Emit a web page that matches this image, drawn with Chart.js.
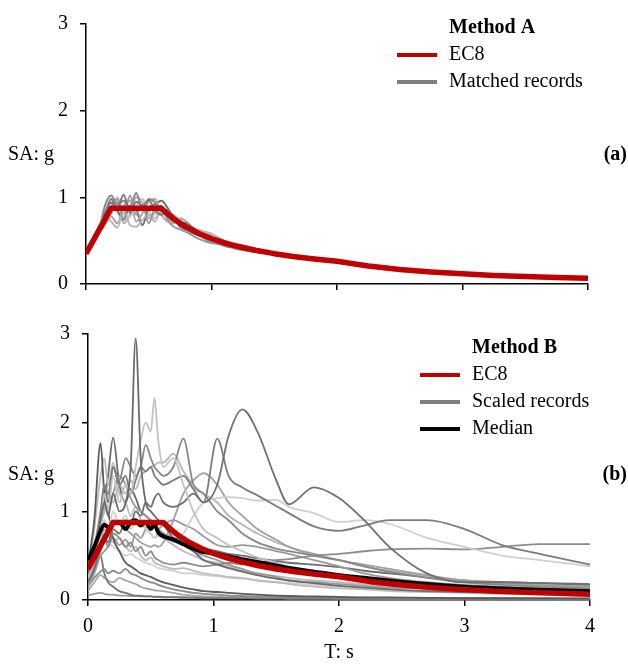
<!DOCTYPE html>
<html>
<head>
<meta charset="utf-8">
<script src="https://cdn.jsdelivr.net/npm/chart.js@4.4.0/dist/chart.umd.min.js"></script>
<style>
  body { margin: 0; background: #fff; }
  canvas { position: absolute; left: 0; }
  #specA { top: 0; }
  #specB { top: 310px; }
</style>
</head>
<body>
<canvas id="specA" width="628" height="310"></canvas>
<canvas id="specB" width="628" height="355"></canvas>
<script>
var FONT = '"Liberation Serif", "Times New Roman", serif';

var xTicks = [0, 1, 2, 3, 4];
var yTicks = [0, 1, 2, 3];

// EC8 elastic design spectrum
var ec8Periods = [0, 0.2, 0.6, 0.65, 0.7, 0.75, 0.8, 0.9, 1.0, 1.1, 1.2, 1.35, 1.5, 1.65, 1.8, 2.0, 2.25, 2.5, 2.75, 3.0, 3.25, 3.5, 3.75, 4.0];
var ec8Values = [0.35, 0.875, 0.875, 0.808, 0.75, 0.70, 0.656, 0.583, 0.525, 0.477, 0.438, 0.389, 0.35, 0.318, 0.292, 0.263, 0.207, 0.168, 0.139, 0.117, 0.099, 0.086, 0.075, 0.066];

// method A: spectrally matched records
var matchedPeriods = [0, 0.05, 0.1, 0.15, 0.2, 0.25, 0.3, 0.35, 0.4, 0.45, 0.5, 0.55, 0.6, 0.65, 0.7, 0.75, 0.8, 0.9, 1.0, 1.1, 1.2, 1.4, 1.6, 1.8, 2.0, 2.3, 2.6, 3.0, 3.5, 4.0];
var matchedRecords = [
  [0.35,0.47,0.62,0.80,0.98,0.88,1.03,0.82,0.95,0.90,0.97,0.85,0.80,0.84,0.78,0.72,0.70,0.60,0.50,0.44,0.41,0.36,0.33,0.29,0.26,0.20,0.155,0.118,0.087,0.066],
  [0.33,0.45,0.58,0.70,0.85,0.98,0.75,1.02,0.80,0.92,0.70,0.88,0.90,0.74,0.66,0.63,0.60,0.52,0.47,0.46,0.43,0.39,0.32,0.28,0.27,0.20,0.16,0.115,0.086,0.065],
  [0.36,0.50,0.66,0.78,0.72,0.65,0.85,0.68,0.66,0.74,0.80,0.72,0.86,0.80,0.78,0.74,0.66,0.62,0.58,0.50,0.45,0.37,0.34,0.29,0.25,0.20,0.15,0.12,0.085,0.067],
  [0.34,0.48,0.60,0.90,1.02,0.92,0.96,0.88,1.05,0.86,0.98,0.94,0.84,0.86,0.74,0.68,0.62,0.56,0.48,0.46,0.43,0.38,0.33,0.30,0.26,0.21,0.16,0.117,0.088,0.067],
  [0.35,0.46,0.64,0.74,0.80,1.00,0.82,0.78,0.90,0.98,0.84,0.76,0.90,0.78,0.80,0.70,0.64,0.63,0.55,0.49,0.45,0.39,0.32,0.28,0.26,0.19,0.155,0.115,0.085,0.065],
  [0.34,0.44,0.57,0.68,0.78,0.70,0.90,0.96,0.72,0.82,0.95,0.98,0.80,0.72,0.70,0.76,0.72,0.58,0.53,0.46,0.41,0.36,0.34,0.30,0.27,0.205,0.16,0.118,0.087,0.066],
  [0.36,0.49,0.63,0.82,0.94,0.84,0.74,0.90,0.86,0.68,0.88,0.92,0.96,0.88,0.76,0.66,0.63,0.56,0.52,0.45,0.42,0.37,0.335,0.285,0.255,0.195,0.15,0.116,0.086,0.066],
  [0.35,0.47,0.61,0.72,0.90,0.95,0.70,0.80,1.00,0.94,0.76,0.82,0.85,0.76,0.72,0.72,0.68,0.60,0.54,0.48,0.40,0.38,0.33,0.29,0.265,0.20,0.155,0.117,0.086,0.066]
];
var matchedColors = ['#7a7a7a', '#9a9a9a', '#b8b8b8', '#888888', '#c4c4c4', '#a8a8a8', '#6e6e6e', '#b0b0b0'];

// method B: amplitude-scaled records and their median
var scaledPeriods = [0, 0.05, 0.1, 0.13, 0.16, 0.2, 0.25, 0.3, 0.34, 0.38, 0.42, 0.46, 0.5, 0.53, 0.56, 0.6, 0.68, 0.76, 0.84, 0.92, 1.03, 1.12, 1.23, 1.35, 1.5, 1.6, 1.8, 2.0, 2.2, 2.4, 2.7, 3.0, 3.3, 3.6, 4.0];
var scaledRecords = [
  [0.30,0.55,0.90,1.10,0.95, 1.20,1.00,1.10,1.50,2.95, 1.60,1.10,1.00,0.95,0.90, 0.85,0.70,0.62,0.55,0.45, 0.40,0.36,0.32,0.28,0.24, 0.22,0.19,0.16,0.14,0.12, 0.10,0.09,0.08,0.07,0.06],
  [0.25,0.50,0.80,1.20,1.00, 1.40,1.10,1.30,1.20,1.50, 1.80,2.00,1.90,2.28,1.80, 1.50,1.60,1.30,1.00,0.80, 0.70,0.62,0.55,0.48,0.42, 0.38,0.33,0.28,0.25,0.22, 0.18,0.15,0.13,0.11,0.09],
  [0.20,0.35,0.60,0.70,0.65, 0.80,0.75,0.90,0.85,1.00, 0.95,1.10,1.05,1.15,1.20, 1.10,1.05,1.10,1.20,1.10, 1.30,1.85,2.15,1.90,1.35, 1.08,1.27,1.15,0.90,0.60, 0.30,0.20,0.20,0.19,0.17],
  [0.30,0.50,0.90,1.30,1.10, 1.50,1.30,1.40,1.20,1.35, 1.50,1.45,1.50,1.40,1.35, 1.30,1.35,1.40,1.25,1.10, 1.82,1.40,1.27,1.18,1.06, 0.98,0.83,0.78,0.84,0.90, 0.90,0.80,0.62,0.52,0.40],
  [0.30,0.60,1.00,1.30,1.20, 1.50,1.35,1.60,1.50,1.40, 1.50,1.75,1.60,1.50,1.45, 1.40,1.50,1.82,1.30,1.20, 1.00,0.90,0.75,0.65,0.58, 0.55,0.50,0.45,0.38,0.32, 0.25,0.20,0.17,0.15,0.13],
  [0.25,0.45,0.70,0.90,0.80, 1.00,0.85,0.95,0.80,0.90, 0.85,0.80,0.75,0.70,0.72, 0.70,0.65,0.75,0.95,1.10, 1.15,1.16,1.15,1.12,1.13, 1.05,0.98,0.88,0.90,0.86, 0.70,0.60,0.50,0.45,0.38],
  [0.20,0.35,0.55,0.70,0.60, 0.75,0.70,0.60,0.65,0.55, 0.60,0.50,0.55,0.48,0.45, 0.42,0.40,0.42,0.40,0.38, 0.40,0.42,0.40,0.42,0.45, 0.46,0.50,0.52,0.55,0.57, 0.58,0.57,0.60,0.63,0.63],
  [0.40,0.90,1.77,1.20,1.00, 0.70,0.55,0.42,0.38,0.34, 0.30,0.28,0.26,0.24,0.22, 0.20,0.17,0.14,0.12,0.10, 0.09,0.08,0.07,0.06,0.05, 0.045,0.04,0.035,0.03,0.03, 0.025,0.02,0.02,0.018,0.015],
  [0.30,0.60,0.90,1.10,1.00, 1.20,1.40,1.30,1.15,1.05, 1.00,0.95,0.90,0.85,0.80, 0.75,0.70,0.62,0.55,0.50, 0.45,0.40,0.35,0.30,0.26, 0.22,0.20,0.18,0.16,0.14, 0.13,0.12,0.10,0.09,0.08],
  [0.30,0.80,1.40,1.60,1.30, 1.55,1.20,1.10,0.95,1.05, 0.90,0.80,0.75,0.70,0.75, 0.70,0.62,0.55,0.50,0.45, 0.42,0.38,0.33,0.30,0.27, 0.25,0.22,0.20,0.18,0.16, 0.14,0.12,0.10,0.09,0.08],
  [0.15,0.30,0.50,0.55,0.60, 0.70,0.62,0.68,0.60,0.75, 0.70,0.80,0.90,0.85,0.80, 0.85,0.90,0.85,0.80,0.72, 0.62,0.60,0.62,0.60,0.55, 0.52,0.45,0.38,0.30,0.25, 0.20,0.17,0.15,0.13,0.12],
  [0.20,0.40,0.65,0.80,0.75, 0.90,0.85,0.80,0.75,0.70, 0.65,0.62,0.60,0.62,0.60, 0.65,0.90,1.20,1.35,1.43, 1.30,1.10,0.95,0.80,0.68, 0.60,0.52,0.45,0.40,0.35, 0.28,0.22,0.19,0.17,0.15],
  [0.30,0.55,0.85,1.00,1.20, 1.10,1.30,1.20,1.35,1.25, 1.40,1.45,1.50,1.52,1.55, 1.55,1.65,1.45,1.30,1.20, 1.10,0.95,0.85,0.75,0.65, 0.60,0.50,0.45,0.38,0.33, 0.27,0.22,0.19,0.16,0.14],
  [0.15,0.25,0.32,0.35,0.30, 0.33,0.30,0.35,0.30,0.28, 0.25,0.22,0.20,0.19,0.17, 0.15,0.12,0.10,0.08,0.07, 0.06,0.05,0.045,0.04,0.035, 0.03,0.03,0.025,0.025,0.02, 0.02,0.02,0.015,0.015,0.012],
  [0.20,0.35,0.50,0.30,0.20, 0.15,0.10,0.08,0.06,0.05, 0.05,0.04,0.04,0.035,0.035, 0.03,0.03,0.025,0.025,0.02, 0.02,0.02,0.018,0.016,0.015, 0.014,0.013,0.012,0.011,0.01, 0.01,0.01,0.009,0.008,0.008],
  [0.10,0.20,0.28,0.25,0.22, 0.20,0.25,0.22,0.20,0.18, 0.15,0.13,0.12,0.11,0.105, 0.10,0.08,0.06,0.05,0.04, 0.035,0.03,0.028,0.025,0.022, 0.02,0.018,0.016,0.015,0.014, 0.012,0.011,0.01,0.01,0.01],
  [0.05,0.07,0.08,0.07,0.06, 0.06,0.05,0.05,0.045,0.045, 0.04,0.04,0.04,0.038,0.038, 0.036,0.035,0.034,0.033,0.032, 0.031,0.03,0.03,0.029,0.028, 0.028,0.027,0.026,0.025,0.024, 0.023,0.022,0.021,0.02,0.02],
  [0.30,0.50,0.70,0.90,0.75, 0.65,0.70,0.60,0.55,0.60, 0.50,0.45,0.48,0.42,0.40, 0.38,0.35,0.36,0.33,0.30, 0.28,0.26,0.25,0.22,0.20, 0.18,0.15,0.13,0.12,0.10, 0.09,0.08,0.07,0.06,0.05],
  [0.25,0.50,0.90,1.10,1.40, 1.83,1.30,1.10,1.25,1.15, 1.00,0.95,0.90,0.85,0.80, 0.75,0.70,0.68,0.62,0.58, 0.55,0.52,0.50,0.47,0.44, 0.42,0.40,0.37,0.33,0.30, 0.26,0.22,0.20,0.19,0.18],
  [0.20,0.40,0.60,0.70,0.65, 0.60,0.55,0.50,0.52,0.48, 0.45,0.42,0.40,0.38,0.36, 0.35,0.33,0.30,0.30,0.28, 0.27,0.25,0.24,0.22,0.20, 0.19,0.17,0.15,0.14,0.12, 0.10,0.09,0.08,0.07,0.06]
];
var scaledColors = ['#6a6a6a', '#c2c2c2', '#707070', '#7c7c7c', '#888888', '#cfcfcf', '#8c8c8c', '#5a5a5a',
  '#9a9a9a', '#bbbbbb', '#9a9a9a', '#a0a0a0', '#b5b5b5', '#8a8a8a', '#777777', '#a5a5a5', '#9c9c9c', '#bdbdbd', '#6c6c6c', '#d0d0d0'];
var medianValues = [0.45,0.60,0.78,0.85,0.82, 0.86,0.88,0.80,0.88,0.90, 0.84,0.88,0.80,0.85,0.76, 0.72,0.68,0.63,0.58,0.54, 0.52,0.49,0.46,0.43,0.39, 0.36,0.32,0.28,0.25,0.22, 0.18,0.15,0.13,0.115,0.10];

function pts(periods, values) {
  return values.map(function (v, i) { return { x: periods[i], y: v }; });
}

function recordSet(periods, values, color, width) {
  return {
    data: pts(periods, values),
    borderColor: color,
    borderWidth: width,
    pointRadius: 0,
    cubicInterpolationMode: 'monotone',
    fill: false
  };
}

function ec8Set() {
  return {
    data: pts(ec8Periods, ec8Values),
    borderColor: '#c00000',
    borderWidth: 5.5,
    borderJoinStyle: 'round',
    pointRadius: 0,
    tension: 0,
    fill: false
  };
}

// axis caption, panel tag and the small legend in the corner
var panelText = {
  id: 'panelText',
  afterDraw: function (chart, args, opts) {
    var ctx = chart.ctx;
    ctx.save();
    ctx.fillStyle = '#000';
    ctx.textBaseline = 'middle';
    ctx.font = '20px ' + FONT;
    ctx.textAlign = 'left';
    ctx.fillText('SA: g', 8, opts.captionY);
    ctx.font = 'bold 20px ' + FONT;
    ctx.textAlign = 'right';
    ctx.fillText(opts.tag, 627, opts.captionY);
    ctx.textAlign = 'left';
    ctx.fillText(opts.title, opts.legendX + 52, opts.legendY);
    ctx.font = '20px ' + FONT;
    opts.items.forEach(function (item, i) {
      var y = opts.legendY + 27 * (i + 1);
      ctx.strokeStyle = item.color;
      ctx.lineWidth = 4;
      ctx.beginPath();
      ctx.moveTo(opts.legendX, y);
      ctx.lineTo(opts.legendX + 40, y);
      ctx.stroke();
      ctx.fillText(item.label, opts.legendX + 52, y);
    });
    ctx.restore();
  }
};

function axes(showX, yWidth, xHeight) {
  var tickFont = { family: FONT, size: 20 };
  var line = { drawOnChartArea: false, drawTicks: true, tickLength: 6, color: '#000', lineWidth: 1.5 };
  return {
    x: {
      type: 'linear', min: 0, max: 4,
      afterBuildTicks: function (s) { s.ticks = xTicks.map(function (v) { return { value: v }; }); },
      border: { color: '#000', width: 1.5 },
      grid: line,
      ticks: { display: showX, font: tickFont, color: '#000', padding: 9, maxRotation: 0 },
      title: { display: showX, text: 'T: s', font: tickFont, color: '#000', padding: { top: 0, bottom: 0 } },
      afterFit: function (s) { s.height = xHeight; }
    },
    y: {
      min: 0, max: 3,
      afterBuildTicks: function (s) { s.ticks = yTicks.map(function (v) { return { value: v }; }); },
      border: { color: '#000', width: 1.5 },
      grid: line,
      ticks: { font: tickFont, color: '#000', padding: 12 },
      afterFit: function (s) { s.width = yWidth; }
    }
  };
}

var common = { responsive: false, animation: false, devicePixelRatio: 1, events: [] };

var setsA = [ec8Set()];
matchedRecords.forEach(function (r, i) { setsA.push(recordSet(matchedPeriods, r, matchedColors[i], 2)); });

new Chart(document.getElementById('specA'), {
  type: 'line',
  data: { datasets: setsA },
  options: Object.assign({}, common, {
    layout: { padding: { top: 17, right: 40, left: 0, bottom: 0 } },
    scales: axes(false, 86, 26),
    plugins: {
      legend: { display: false }, tooltip: { enabled: false },
      panelText: {
        captionY: 155, tag: '(a)', title: 'Method A', legendX: 397, legendY: 28,
        items: [{ label: 'EC8', color: '#c00000' }, { label: 'Matched records', color: '#808080' }]
      }
    }
  }),
  plugins: [panelText]
});

var setsB = [ec8Set(), recordSet(scaledPeriods, medianValues, '#000', 4)];
scaledRecords.forEach(function (r, i) { setsB.push(recordSet(scaledPeriods, r, scaledColors[i], 1.8)); });

new Chart(document.getElementById('specB'), {
  type: 'line',
  data: { datasets: setsB },
  options: Object.assign({}, common, {
    layout: { padding: { top: 23, right: 38, left: 0, bottom: 0 } },
    scales: axes(true, 88, 65),
    plugins: {
      legend: { display: false }, tooltip: { enabled: false },
      panelText: {
        captionY: 165, tag: '(b)', title: 'Method B', legendX: 420, legendY: 38,
        items: [{ label: 'EC8', color: '#c00000' }, { label: 'Scaled records', color: '#808080' }, { label: 'Median', color: '#000' }]
      }
    }
  }),
  plugins: [panelText]
});
</script>
</body>
</html>
